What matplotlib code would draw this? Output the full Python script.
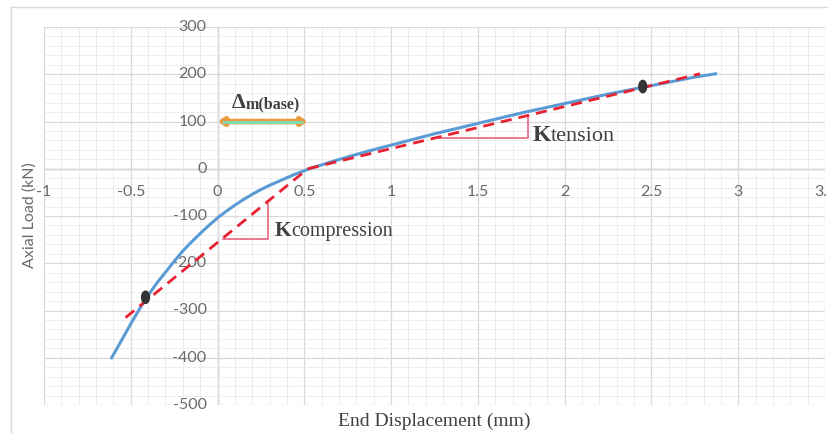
import matplotlib.pyplot as plt
import numpy as np
from matplotlib.patches import Ellipse, Rectangle

# load-displacement curve (mm, kN)
disp = [-0.61, -0.55, -0.5, -0.45, -0.4, -0.35, -0.3, -0.25, -0.2, -0.15, -0.1, -0.05,
        0.0, 0.05, 0.1, 0.15, 0.2, 0.25, 0.3, 0.35, 0.4, 0.45, 0.53,
        0.65, 0.75, 0.875, 1.0, 1.25, 1.5, 1.75, 2.0, 2.25, 2.5, 2.75, 2.87]
load = [-400, -361, -328, -297, -268, -242, -219, -196, -174, -155, -137, -120,
        -104, -90, -77, -65, -54, -44, -35, -27, -19, -11, 0,
        14, 25, 38, 50, 74, 96, 118, 138, 158, 176, 194, 201]

# bilinear idealisation
comp_x = [-0.53, 0.52]
comp_y = [-315, 0]
tens_x = [0.52, 2.78]
tens_y = [0, 201]

# stiffness triangles
comp_tri_x = [0.03, 0.29, 0.29]
comp_tri_y = [-148, -148, -69]
tens_tri_x = [1.24, 1.79, 1.79]
tens_tri_y = [66, 66, 112]

# picked points on the curve
dot_x = [-0.415, 2.45]
dot_y = [-272, 174]

# base displacement span
delta_span = [0.0, 0.52]
delta_level = 100

x_ticks = [-1, -0.5, 0, 0.5, 1, 1.5, 2, 2.5, 3, 3.5]
x_tick_labels = ['-1', '-0.5', '0', '0.5', '1', '1.5', '2', '2.5', '3', '3.5']
y_ticks = [-500, -400, -300, -200, -100, 0, 100, 200, 300]
y_tick_labels = ['-500', '-400', '-300', '-200', '-100', '0', '100', '200', '300']

W, H = 829, 434
SANS = ['Lato', 'DejaVu Sans']
SERIF = ['Liberation Serif', 'DejaVu Serif']
GREY = '#6a6a6a'
DARK = '#404040'

fig = plt.figure(figsize=(W / 100, H / 100), dpi=100)
fig.patches.append(Rectangle((11 / W, -0.1), 1.0, 1 - 7 / H + 0.1, transform=fig.transFigure,
                             fill=False, edgecolor='#d9d9d9', lw=1))
ax = fig.add_axes([44 / W, 1 - 405 / H, (825 - 44) / W, (405 - 27) / H])
ax.set_xlim(-1, 3.5)
ax.set_ylim(-500, 300)

ax.set_xticks(x_ticks)
ax.set_xticks(np.arange(-1, 3.501, 0.1), minor=True)
ax.set_yticks(y_ticks)
ax.set_yticks(np.arange(-500, 301, 20), minor=True)
ax.grid(which='minor', color='#ebebeb', lw=0.6)
ax.grid(which='major', color='#d9d9d9', lw=0.9)
ax.tick_params(which='both', length=0, labelbottom=False, labelleft=False)
for s in ax.spines.values():
    s.set_visible(False)
ax.axhline(0, color='#bfbfbf', lw=1, zorder=1)
ax.axvline(0, color='#bfbfbf', lw=1, zorder=1)

# axis labels sit on the zero lines, excel style
for x, lab in zip(x_ticks, x_tick_labels):
    ax.annotate(lab, (x, 0), xytext=(0, -16), textcoords='offset pixels',
                ha='center', va='top', color=GREY, fontsize=11.5, family=SANS,
                annotation_clip=False)
for y, lab in zip(y_ticks, y_tick_labels):
    ax.annotate(lab, (0, y), xytext=(-11, 0), textcoords='offset pixels',
                ha='right', va='center', color=GREY, fontsize=11.5, family=SANS)

ax.plot(disp, load, color='#5b9bd5', lw=2.2, zorder=3, solid_joinstyle='round')
ax.plot(comp_x, comp_y, color='#e8202f', lw=2, ls=(0, (4, 2.5)), zorder=4)
ax.plot(tens_x, tens_y, color='#e8202f', lw=2, ls=(0, (4, 2.5)), zorder=4)
ax.plot(comp_tri_x, comp_tri_y, color='#e8708a', lw=1.3, zorder=2)
ax.plot(tens_tri_x, tens_tri_y, color='#e8708a', lw=1.3, zorder=2)

for x, y in zip(dot_x, dot_y):
    ax.add_patch(Ellipse((x, y), width=0.045, height=26, color='#333333', zorder=5))

# double arrow for the base displacement
ax.annotate('', xy=(delta_span[1], delta_level), xytext=(delta_span[0], delta_level),
            arrowprops=dict(arrowstyle='<|-|>,head_length=0.3,head_width=0.2',
                            color='#e89a3c', lw=4, shrinkA=0, shrinkB=0), zorder=5)
ax.plot([delta_span[0] + 0.025, delta_span[1] - 0.025], [delta_level, delta_level],
        color='#84d8aa', lw=2.2, solid_capstyle='butt', zorder=6)

d = ax.text(0.08, 129, 'Δ', fontsize=16, weight='bold', family=SERIF, color=DARK,
            ha='left', va='baseline')
ax.annotate('m(base)', xy=(1, 0), xycoords=d, ha='left', va='bottom', fontsize=11.5,
            weight='bold', family=SERIF, color=DARK)

k1 = ax.text(0.33, -142, 'K', fontsize=15.5, weight='bold', family=SERIF, color=DARK,
             ha='left', va='baseline')
ax.annotate('compression', xy=(1, 0), xycoords=k1, ha='left', va='bottom', fontsize=14.5,
            family=SERIF, color=DARK)
k2 = ax.text(1.815, 58, 'K', fontsize=17, weight='bold', family=SERIF, color=DARK,
             ha='left', va='baseline')
ax.annotate('tension', xy=(1, 0), xycoords=k2, ha='left', va='bottom', fontsize=16,
            family=SERIF, color=DARK)

fig.text(434 / W, 1 - 421 / H, 'End Displacement (mm)', ha='center', va='center',
         fontsize=14, family=SERIF, color=DARK)
fig.text(30 / W, 1 - 215 / H, 'Axial Load (kN)', rotation=90, ha='center', va='center',
         fontsize=11.5, family=SANS, color=GREY)

fig.savefig('out.png', dpi=100)
